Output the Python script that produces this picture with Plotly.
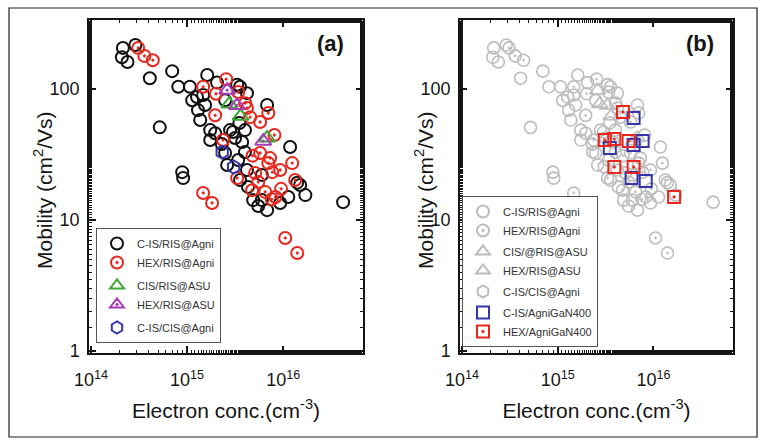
import plotly.graph_objects as go

# ---------------- data ----------------
# Panel (a) / background of panel (b)
cis_ris_agni_x = [2.15e14, 2.9e14, 2.1e14, 2.4e14, 4.1e14, 7.0e14, 5.2e14, 8.1e14, 1.07e15, 1.62e15,
                  1.27e15, 1.54e15, 1.3e15, 1.37e15, 1.74e15, 2.8e15, 4.0e15, 3.16e15, 4.2e15, 3.56e15,
                  6.8e15, 1.18e16, 3.74e15, 1.96e15, 3.0e15, 2.49e15, 2.3e15, 4.0e15, 2.61e15, 4.2e15,
                  4.3e15, 4.87e15, 6.8e15, 9.3e15, 1.13e16, 1.5e16, 1.7e16, 4.2e16, 8.9e14, 9.1e14,
                  6.0e15, 2.05e15, 3.32e15, 6.0e15, 3.56e15, 3.4e15, 1.4e16, 1.74e15, 1.13e15, 1.47e15,
                  2.49e15, 3.5e15, 5.5e15]
cis_ris_agni_y = [206, 217, 175, 161, 121, 137, 51, 104, 104, 128,
                  87, 75.5, 69, 58, 48.6, 48.6, 48.6, 42.3, 93, 104,
                  75.5, 36.1, 39.4, 46, 47, 32.5, 38, 33, 26.3, 24.1,
                  17.9, 14.2, 11.9, 13.5, 15, 18.5, 15.5, 13.7, 23.2, 20.9,
                  14.2, 112, 108, 22.1, 20.2, 28.7, 19.3, 40.8, 82, 90,
                  82, 55, 12.8]

hex_ris_agni_x = [3.1e14, 3.6e14, 4.4e14, 1.47e15, 2.55e15, 2.0e15, 1.96e15, 3.4e15, 4.2e15, 5.75e15,
                  7.0e15, 8.1e15, 2.37e15, 4.8e15, 7.3e15, 5.75e15, 7.0e15, 3.32e15, 5.1e15, 7.7e15,
                  9.3e15, 1.24e16, 5.5e15, 4.75e15, 6.5e15, 9.5e15, 1.33e16, 8.3e15, 1.47e15, 1.82e15,
                  1.05e16, 1.4e16, 7.6e15, 4.53e15, 4.02e15]
hex_ris_agni_y = [206, 179, 166, 104, 119, 92, 63, 95, 71.6, 56,
                  65.6, 44.6, 40.8, 31, 29.7, 32.5, 27.2, 20.9, 22.9, 23.2,
                  24.1, 27.2, 19.5, 16.9, 16.4, 17.3, 20.2, 15, 16.1, 13.5,
                  7.3, 5.6, 14.4, 61, 78]

cis_ris_asu_x = [2.75e15, 3.6e15, 6.8e15]
cis_ris_asu_y = [77, 62, 42.3]

hex_ris_asu_x = [2.61e15, 3.3e15, 6.2e15]
hex_ris_asu_y = [98, 75, 40]

cis_cis_agni_x = [2.32e15, 3.05e15]
cis_cis_agni_y = [33, 25.4]

# Panel (b) highlighted series
cis_gan400_x = [6.2e15, 3.5e15, 7.7e15, 6.2e15, 5.9e15, 8.3e15]
cis_gan400_y = [60, 35.5, 40.1, 37.4, 20.9, 19.9]

hex_gan400_x = [3.1e15, 3.9e15, 5.5e15, 4.8e15, 3.9e15, 6.2e15, 1.64e16]
hex_gan400_y = [40.8, 41.5, 40.1, 66.7, 25.4, 25.4, 15]

x_tickvals = [1e14, 1e15, 1e16]
x_ticktext = ["10<sup>14</sup>", "10<sup>15</sup>", "10<sup>16</sup>"]
y_tickvals = [1, 10, 100]
y_ticktext = ["1", "10", "100"]

# ---------------- figure ----------------
FONT = "Liberation Sans, Arial, sans-serif"
INK = "#151515"
BLACK = "#111111"
RED = "#e8261d"
GREEN = "#3aa832"
PURPLE = "#a53cb8"
BLUE = "#3636a8"
GREY = "#bcbcbc"

W, H = 758, 448
fig = go.Figure()


def add(x, y, name, symbol, color, size, lw, xa, ya, legend, group):
    fig.add_trace(go.Scatter(
        x=x, y=y, mode="markers", name=name, xaxis=xa, yaxis=ya,
        legend=legend, legendgroup=group,
        marker=dict(symbol=symbol, size=size, color=color,
                    line=dict(color=color, width=lw)),
    ))


# panel (a)
add(cis_ris_agni_x, cis_ris_agni_y, "C-IS/RIS@Agni", "circle-open", BLACK, 12, 2, "x", "y", "legend", "a1")
add(hex_ris_agni_x, hex_ris_agni_y, "HEX/RIS@Agni", "circle-open-dot", RED, 12, 2, "x", "y", "legend", "a1")
add(cis_ris_asu_x, cis_ris_asu_y, "CIS/RIS@ASU", "triangle-up-open", GREEN, 14, 2, "x", "y", "legend", "a2")
add(hex_ris_asu_x, hex_ris_asu_y, "HEX/RIS@ASU", "triangle-up-open-dot", PURPLE, 14, 2, "x", "y", "legend", "a2")
add(cis_cis_agni_x, cis_cis_agni_y, "C-IS/CIS@Agni", "hexagon-open", BLUE, 13, 2, "x", "y", "legend", "a3")

# panel (b)
add(cis_ris_agni_x, cis_ris_agni_y, "C-IS/RIS@Agni", "circle-open", GREY, 12, 1.6, "x2", "y2", "legend2", "b1")
add(hex_ris_agni_x, hex_ris_agni_y, "HEX/RIS@Agni", "circle-open-dot", GREY, 12, 1.6, "x2", "y2", "legend2", "b1")
add(cis_ris_asu_x, cis_ris_asu_y, "CIS/@RIS@ASU", "triangle-up-open", GREY, 14, 1.6, "x2", "y2", "legend2", "b2")
add(hex_ris_asu_x, hex_ris_asu_y, "HEX/RIS@ASU", "triangle-up-open", GREY, 14, 1.6, "x2", "y2", "legend2", "b2")
add(cis_cis_agni_x, cis_cis_agni_y, "C-IS/CIS@Agni", "hexagon-open", GREY, 13, 1.6, "x2", "y2", "legend2", "b3")
add(cis_gan400_x, cis_gan400_y, "C-IS/AgniGaN400", "square-open", BLUE, 12, 2, "x2", "y2", "legend2", "b4")
add(hex_gan400_x, hex_gan400_y, "HEX/AgniGaN400", "square-open-dot", RED, 12, 2, "x2", "y2", "legend2", "b4")


def xaxis(domain, anchor):
    return dict(
        type="log", range=[13.98, 16.83], domain=domain, anchor=anchor,
        tickmode="array", tickvals=x_tickvals, ticktext=x_ticktext,
        showline=True, linecolor=INK, linewidth=1.5, mirror="ticks",
        ticks="inside", ticklen=7, tickwidth=1.5, tickcolor=INK,
        minor=dict(ticks="inside", ticklen=3.5, tickwidth=1, tickcolor=INK, showgrid=False),
        showgrid=False, zeroline=False, automargin=False, ticklabelstandoff=10,
        tickfont=dict(size=18, color=INK, family=FONT),
        title=dict(text="Electron conc.(cm<sup>-3</sup>)", standoff=14,
                   font=dict(size=21, color=INK, family=FONT)),
    )


def yaxis(domain, anchor):
    return dict(
        type="log", range=[-0.015, 2.527], domain=domain, anchor=anchor,
        tickmode="array", tickvals=y_tickvals, ticktext=y_ticktext,
        showline=True, linecolor=INK, linewidth=1.5, mirror="ticks",
        ticks="inside", ticklen=7, tickwidth=1.5, tickcolor=INK,
        minor=dict(ticks="inside", ticklen=3.5, tickwidth=1, tickcolor=INK, showgrid=False),
        showgrid=False, zeroline=False, automargin=False, ticklabelstandoff=4,
        tickfont=dict(size=18, color=INK, family=FONT),
    )


ydom = [(H - 353) / H, (H - 20) / H]
legend_common = dict(
    bgcolor="white", bordercolor="#555", borderwidth=1,
    font=dict(size=11, color="#333", family=FONT),
    traceorder="grouped", itemsizing="constant", itemwidth=30,
    xanchor="left", yanchor="top", xref="paper", yref="paper",
)

ytitle = "Mobility (cm<sup>2</sup>/Vs)"
fig.update_layout(
    width=W, height=H, margin=dict(l=0, r=0, t=0, b=0),
    paper_bgcolor="white", plot_bgcolor="white",
    font=dict(family=FONT, color=INK),
    xaxis=xaxis([89 / W, 363 / W], "y"),
    yaxis=yaxis(ydom, "x"),
    xaxis2=xaxis([460 / W, 733 / W], "y2"),
    yaxis2=yaxis(ydom, "x2"),
    legend=dict(legend_common, x=96 / W, y=1 - 228 / H, tracegroupgap=4),
    legend2=dict(legend_common, x=462 / W, y=1 - 196 / H, tracegroupgap=2),
    annotations=[
        dict(text="<b>(a)</b>", x=330 / W, y=1 - 43 / H, xref="paper", yref="paper",
             xanchor="center", yanchor="middle",
             showarrow=False, font=dict(size=22, color=INK, family=FONT)),
        dict(text="<b>(b)</b>", x=700 / W, y=1 - 43 / H, xref="paper", yref="paper",
             xanchor="center", yanchor="middle",
             showarrow=False, font=dict(size=22, color=INK, family=FONT)),
        dict(text=ytitle, x=43 / W, y=1 - 190 / H, xref="paper", yref="paper",
             xanchor="center", yanchor="middle", textangle=-90,
             showarrow=False, font=dict(size=21, color=INK, family=FONT)),
        dict(text=ytitle, x=424 / W, y=1 - 190 / H, xref="paper", yref="paper",
             xanchor="center", yanchor="middle", textangle=-90,
             showarrow=False, font=dict(size=21, color=INK, family=FONT)),
    ],
    shapes=[
        dict(type="rect", xref="paper", yref="paper",
             x0=9 / W, x1=757 / W, y0=1 - 437 / H, y1=1 - 8 / H,
             line=dict(color="#222", width=1.2), fillcolor="rgba(0,0,0,0)", layer="below"),
    ],
)

fig.write_html("out.html")
